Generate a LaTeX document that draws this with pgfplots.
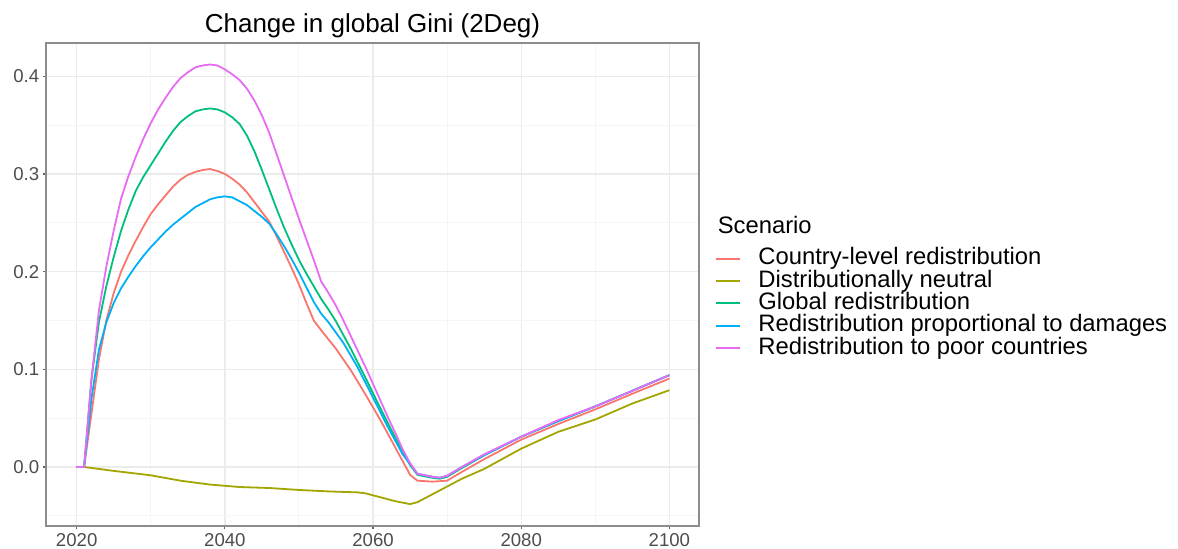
\documentclass[border=0pt]{standalone}
\usepackage{pgfplots}
\pgfplotsset{compat=1.18}
\usepackage{fontspec}
\setmainfont{Liberation Sans}
\definecolor{cA}{HTML}{F8766D}
\definecolor{cB}{HTML}{A3A500}
\definecolor{cC}{HTML}{00BF7D}
\definecolor{cD}{HTML}{00B0F6}
\definecolor{cE}{HTML}{E76BF3}
\definecolor{tickgray}{HTML}{4D4D4D}
\begin{document}
\begin{tikzpicture}
\useasboundingbox (-23bp,-11.5bp) rectangle (566bp,263bp);
\begin{axis}[
  at={(0,0)}, anchor=south west,
  scale only axis,
  width=326.5bp, height=241.5bp,
  xmin=2015.86, xmax=2104.0,
  ymin=-0.0604, ymax=0.434,
  xtick={2020,2040,2060,2080,2100},
  ytick={0,0.1,0.2,0.3,0.4},
  minor xtick={2030,2050,2070,2090},
  minor ytick={-0.05,0.05,0.15,0.25,0.35},
  grid=both,
  major grid style={draw=black!8, line width=0.7bp},
  minor grid style={draw=black!4, line width=0.5bp},
  axis line style={draw=black!45, line width=0.7bp},
  tick pos=left,
  tick align=outside,
  major tick length=1.65bp,
  minor tick length=0pt,
  tick style={draw=black!60, line width=0.6bp},
  /pgf/number format/assume math mode=true,
  xticklabel style={/pgf/number format/1000 sep={}, font=\fontsize{9.3bp}{11bp}\selectfont, text=tickgray, yshift=1.3bp},
  yticklabel style={/pgf/number format/fixed, /pgf/number format/fixed zerofill, /pgf/number format/precision=1, font=\fontsize{9.3bp}{11bp}\selectfont, text=tickgray, xshift=1.8bp},
  title={Change in global Gini (2Deg)},
  title style={font=\fontsize{13bp}{15bp}\selectfont, yshift=-7bp},
  legend style={draw=none, fill=none, at={(rel axis cs:1.0245,0.4607)}, anchor=west,
    font=\fontsize{11.9bp}{13bp}\selectfont, row sep=0pt, inner sep=0pt,
    nodes={inner sep=0pt, text height=8.6bp, text depth=2.55bp}},
  legend cell align=left,
  legend image code/.code={\draw[#1, line width=1bp] (0bp,0bp) -- (12bp,0bp);},
  every axis plot/.append style={line width=0.9bp},
  legend style={/tikz/every even column/.append style={column sep=0pt}},
  legend style={/tikz/every odd column/.append style={column sep=8.5bp}},
]
% Country-level redistribution
\addplot[cA] coordinates {
(2020,0) (2021,0) (2022,0.055) (2023,0.11) (2024,0.15) (2025,0.178) (2026,0.200) (2027,0.217) (2028,0.232) (2029,0.246) (2030,0.259) (2031,0.269) (2032,0.278) (2033,0.287) (2034,0.294) (2035,0.299) (2036,0.302) (2037,0.304) (2038,0.305) (2039,0.303) (2040,0.300) (2041,0.295) (2042,0.289) (2043,0.281) (2044,0.271) (2045,0.261) (2046,0.251) (2047,0.236) (2048,0.220) (2049,0.204) (2050,0.187) (2051,0.168) (2052,0.150) (2053,0.140) (2055,0.121) (2057,0.099) (2059,0.074) (2061,0.048) (2063,0.020) (2065,-0.008) (2066,-0.014) (2068,-0.015) (2070,-0.014) (2072,-0.005) (2075,0.008) (2080,0.028) (2085,0.044) (2090,0.059) (2095,0.075) (2100,0.0905)
};
\addlegendentry{Country-level redistribution}
% Distributionally neutral
\addplot[cB] coordinates {
(2020,0) (2021,0) (2025,-0.004) (2030,-0.0085) (2034,-0.014) (2038,-0.018) (2042,-0.0205) (2046,-0.0215) (2050,-0.0235) (2054,-0.025) (2058,-0.026) (2059,-0.027) (2061,-0.031) (2063,-0.035) (2065,-0.038) (2066,-0.036) (2068,-0.028) (2070,-0.020) (2072,-0.012) (2075,-0.002) (2080,0.0188) (2085,0.036) (2090,0.0486) (2095,0.065) (2100,0.0786)
};
\addlegendentry{Distributionally neutral}
% Global redistribution
\addplot[cC] coordinates {
(2020,0) (2021,0) (2022,0.09) (2023,0.148) (2024,0.185) (2025,0.215) (2026,0.242) (2027,0.264) (2028,0.283) (2029,0.297) (2030,0.309) (2031,0.321) (2032,0.333) (2033,0.344) (2034,0.353) (2035,0.359) (2036,0.364) (2037,0.366) (2038,0.367) (2039,0.366) (2040,0.363) (2041,0.358) (2042,0.351) (2043,0.339) (2044,0.323) (2045,0.304) (2046,0.284) (2047,0.264) (2048,0.245) (2049,0.228) (2050,0.212) (2051,0.198) (2052,0.185) (2053,0.172) (2054,0.161) (2055,0.149) (2057,0.121) (2059,0.091) (2061,0.060) (2063,0.030) (2065,0.002) (2066,-0.008) (2068,-0.011) (2069,-0.012) (2070,-0.010) (2072,-0.001) (2075,0.012) (2080,0.031) (2085,0.047) (2090,0.062) (2095,0.078) (2100,0.094)
};
\addlegendentry{Global redistribution}
% Redistribution proportional to damages
\addplot[cD] coordinates {
(2020,0) (2021,0) (2022,0.07) (2023,0.12) (2024,0.148) (2025,0.168) (2026,0.183) (2027,0.195) (2028,0.206) (2029,0.216) (2030,0.225) (2031,0.233) (2032,0.241) (2033,0.248) (2034,0.254) (2035,0.260) (2036,0.266) (2037,0.270) (2038,0.274) (2039,0.276) (2040,0.277) (2041,0.276) (2042,0.272) (2043,0.268) (2044,0.262) (2045,0.256) (2046,0.249) (2047,0.238) (2048,0.226) (2049,0.213) (2050,0.199) (2051,0.184) (2052,0.169) (2053,0.157) (2054,0.148) (2056,0.127) (2058,0.101) (2060,0.071) (2062,0.041) (2064,0.013) (2066,-0.007) (2068,-0.010) (2069,-0.011) (2070,-0.009) (2072,0.000) (2075,0.012) (2080,0.031) (2085,0.047) (2090,0.062) (2095,0.078) (2100,0.094)
};
\addlegendentry{Redistribution proportional to damages}
% Redistribution to poor countries
\addplot[cE] coordinates {
(2020,0) (2021,0) (2022,0.09) (2023,0.16) (2024,0.205) (2025,0.242) (2026,0.275) (2027,0.298) (2028,0.318) (2029,0.336) (2030,0.352) (2031,0.366) (2032,0.378) (2033,0.389) (2034,0.398) (2035,0.404) (2036,0.409) (2037,0.411) (2038,0.412) (2039,0.411) (2040,0.407) (2041,0.402) (2042,0.396) (2043,0.387) (2044,0.375) (2045,0.360) (2046,0.342) (2047,0.320) (2048,0.298) (2049,0.276) (2050,0.254) (2051,0.233) (2052,0.212) (2053,0.190) (2054,0.178) (2055,0.165) (2056,0.150) (2057,0.134) (2058,0.118) (2059,0.102) (2060,0.085) (2061,0.068) (2062,0.051) (2063,0.035) (2064,0.018) (2065,0.004) (2066,-0.007) (2068,-0.010) (2069,-0.011) (2070,-0.009) (2072,0.000) (2075,0.013) (2080,0.031) (2085,0.048) (2090,0.062) (2095,0.078) (2100,0.094)
};
\addlegendentry{Redistribution to poor countries}
\end{axis}
\node[anchor=base west, font=\fontsize{11.9bp}{13bp}\selectfont, inner sep=0pt] at (335.7bp,146.2bp) {Scenario};
\end{tikzpicture}
\end{document}
